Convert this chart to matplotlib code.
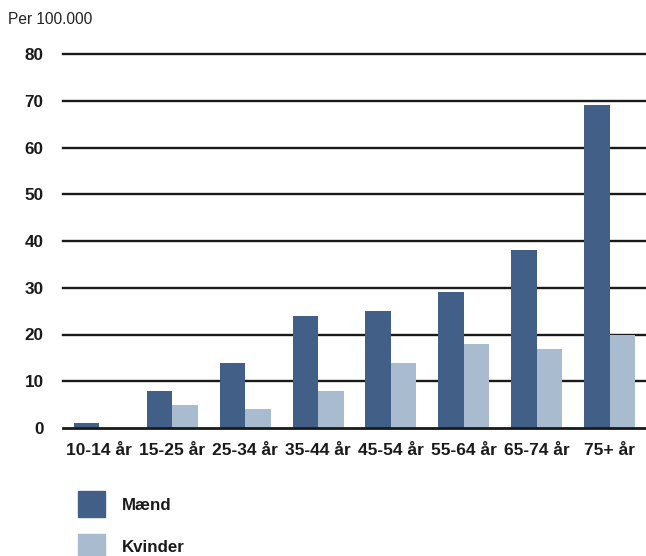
import matplotlib
matplotlib.use("Agg")
import matplotlib.pyplot as plt
import matplotlib.patches as mpatches
import numpy as np

plt.rcParams['font.family'] = ['Liberation Sans', 'DejaVu Sans']

categories = ["10-14 år", "15-25 år", "25-34 år", "35-44 år", "45-54 år", "55-64 år", "65-74 år", "75+ år"]
maend = [1, 8, 14, 24, 25, 29, 38, 69]
kvinder = [0, 5, 4, 8, 14, 18, 17, 20]
yticks = [0, 10, 20, 30, 40, 50, 60, 70, 80]
series_names = ["Mænd", "Kvinder"]

c_m = "#425f87"
c_k = "#a9bbcf"
txt = "#1a1a1a"

fig = plt.figure(figsize=(6.46, 5.56), dpi=100)
ax = fig.add_axes([63/646, (556-428)/556, (646-63)/646, (428-54)/556])

x = np.arange(len(categories))
w = 0.35
ax.bar(x - w/2, maend, width=w, color=c_m, zorder=3)
ax.bar(x + w/2, kvinder, width=w, color=c_k, zorder=3)

for t in yticks:
    ax.axhline(t, color="#1a1a1a", lw=1.7 if t else 2.0, zorder=1 if t else 4, clip_on=False)

ax.set_xlim(-0.5, 7.5)
ax.set_ylim(0, 80)
ax.set_yticks(yticks)
ax.set_yticklabels([str(t) for t in yticks], fontsize=12.3, fontweight="bold", color=txt)
ax.set_xticks(x)
ax.set_xticklabels(categories, fontsize=12.5, fontweight="bold", color=txt)
ax.tick_params(axis="y", length=0, pad=14)
ax.tick_params(axis="x", length=0, pad=10.5)
for s in ax.spines.values():
    s.set_visible(False)

fig.text(8/646, 1 - 19/556, "Per 100.000", fontsize=11.2, color="#222222", va="center", ha="left")

# legend
for i, (name, col) in enumerate(zip(series_names, [c_m, c_k])):
    ytop = 491 + i * 43
    fig.patches.append(mpatches.Rectangle((78/646, 1 - (ytop + 26)/556), 27/646, 26/556,
                                          transform=fig.transFigure, color=col, figure=fig))
    fig.text(122/646, 1 - (ytop + 14)/556, name, fontsize=12.2, fontweight="bold",
             color=txt, va="center", ha="left")

fig.savefig("out.png", dpi=100)
